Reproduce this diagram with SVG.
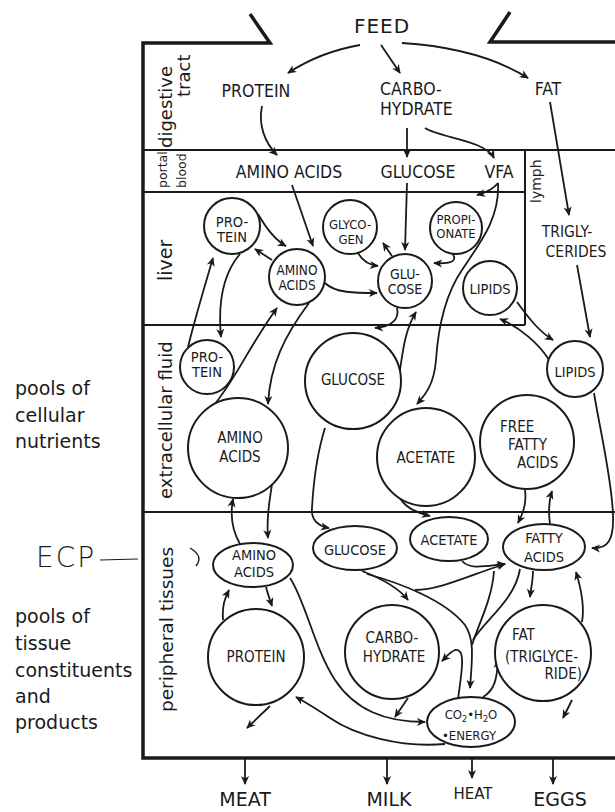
<svg xmlns="http://www.w3.org/2000/svg" width="615" height="812" viewBox="0 0 615 812">
<defs>
<marker id="ah" viewBox="0 0 10 10" refX="9" refY="5" markerWidth="11" markerHeight="9" markerUnits="userSpaceOnUse" orient="auto">
<path d="M0,0.5 L10,5 L0,9.5 L2.8,5 z" fill="#1a1a1a"/>
</marker>
<style>
.fr{fill:none;stroke:#1a1a1a;stroke-width:3.5;stroke-linejoin:miter}
.dv{fill:none;stroke:#1a1a1a;stroke-width:2}
.n{fill:#fff;stroke:#1a1a1a;stroke-width:2}
.c{fill:none;stroke:#1a1a1a;stroke-width:1.8;marker-end:url(#ah)}
.l{fill:none;stroke:#1a1a1a;stroke-width:1.8}
.t{font-family:'DejaVu Sans Condensed','Liberation Sans',sans-serif;font-size:14.5px;fill:#1a1a1a;text-anchor:middle}
.s{font-size:13.5px}
.m{font-size:15px}
.h{font-family:'DejaVu Sans Condensed','Liberation Sans',sans-serif;font-size:17.5px;fill:#1a1a1a;text-anchor:middle}
.b{font-family:'DejaVu Sans','Liberation Sans',sans-serif;fill:#1a1a1a;text-anchor:middle}
.v{font-family:'DejaVu Sans','Liberation Sans',sans-serif;font-size:18px;fill:#1a1a1a}
.p{font-family:'DejaVu Sans','Liberation Sans',sans-serif;font-size:19px;fill:#1a1a1a}
</style>
</defs>
<rect width="615" height="812" fill="#fff"/>

<g id="frame">
<path class="fr" d="M250,14 L270,43 L143,43 L143,758 L615,758"/>
<path class="fr" d="M510,12 L490,42 L615,42"/>
<path class="dv" d="M143,150 L615,150"/>
<path class="dv" d="M143,192 L525,192"/>
<path class="dv" d="M525,150 L525,325"/>
<path class="dv" d="M143,325 L525,325"/>
<path class="dv" d="M143,512 L615,512"/>
</g>

<g id="section-labels">
<text class="v" transform="translate(172,148) rotate(-90)">digestive</text>
<text class="v" transform="translate(190,97) rotate(-90)">tract</text>
<text class="v" style="font-size:12.5px" transform="translate(167,188) rotate(-90)">portal</text>
<text class="v" style="font-size:12.5px" transform="translate(186,188) rotate(-90)">blood</text>
<text class="v" style="font-size:19px" transform="translate(172,281) rotate(-90)">liver</text>
<text class="v" transform="translate(172,499) rotate(-90)">extracellular fluid</text>
<text class="v" style="font-size:18.5px" transform="translate(173,712) rotate(-90)">peripheral tissues</text>
<text class="v" style="font-size:14px" transform="translate(541,203) rotate(-90)">lymph</text>
</g>

<g id="side-labels">
<text class="p" x="15" y="395">pools of</text>
<text class="p" x="15" y="422">cellular</text>
<text class="p" x="15" y="448">nutrients</text>
<text class="p" x="15" y="623">pools of</text>
<text class="p" x="15" y="650">tissue</text>
<text class="p" x="15" y="677">constituents</text>
<text class="p" x="15" y="703">and</text>
<text class="p" x="15" y="729">products</text>
<text x="36" y="567" style="font-family:'DejaVu Sans','Liberation Sans',sans-serif;font-size:28px;font-weight:200;letter-spacing:2px;fill:#1a1a1a">ECP</text>
<path class="l" style="stroke-width:1.2" d="M100,560 L138,559"/>
<path class="l" style="stroke-width:1.4" d="M190,548 Q204,556 196,566"/>
</g>

<g id="connectors">
<path class="c" d="M360,45 Q320,52 288,73"/>
<path class="c" d="M381,45 L400,73"/>
<path class="c" d="M402,43 Q480,48 528,78"/>
<path class="c" d="M262,106 C258,125 265,143 277,155"/>
<path class="c" d="M407,128 L407,157"/>
<path class="c" d="M425,128 C440,138 485,140 494,158"/>
<path class="c" d="M550,102 L569,215"/>
<path class="c" d="M577,265 L590,337"/>
<path class="c" d="M292,185 L313,246"/>
<path class="c" d="M407,183 L405,250"/>
<path class="c" d="M498,183 Q492,191 477,195"/>
<path class="c" d="M498,183 C500,220 478,245 462,270 C445,295 438,330 436,360 C434,385 425,395 417,404"/>
<path class="c" d="M452,253 C459,262 449,264 434,263"/>
<path class="c" d="M358,253 C363,262 370,265 378,266"/>
<path class="c" d="M392,256 L383,243"/>
<path class="c" d="M258,214 C266,228 275,240 286,246"/>
<path class="c" d="M272,260 L255,249"/>
<path class="c" d="M325,283 C335,293 355,293 377,293"/>
<path class="c" d="M240,254 C222,275 218,305 221,337"/>
<path class="c" d="M188,347 C196,315 205,285 213,258"/>
<path class="c" d="M214,405 C235,380 250,345 277,308"/>
<path class="c" d="M309,303 C285,335 270,365 268,404"/>
<path class="c" d="M397,308 C400,320 390,327 375,328"/>
<path class="c" d="M400,370 C403,350 405,330 416,312"/>
<path class="c" d="M517,302 C530,320 540,332 553,340"/>
<path class="c" d="M549,360 C540,345 520,327 500,319"/>
<path class="c" d="M594,393 C600,430 612,480 613,515 C614,540 608,549 592,548"/>
<path class="c" d="M525,490 C527,505 522,515 518,523"/>
<path class="c" d="M550,524 C548,510 549,500 552,491"/>
<path class="c" d="M398,495 C405,508 415,512 430,516"/>
<path class="c" d="M325,428 C315,460 313,490 312,508 C311,520 318,526 329,528"/>
<path class="c" d="M272,484 C270,500 266,515 268,538"/>
<path class="c" d="M240,544 C232,530 230,515 233,499"/>
<path class="c" d="M266,587 C268,595 270,600 272,606"/>
<path class="c" d="M223,620 C222,605 225,598 229,590"/>
<path class="c" d="M290,578 C305,600 315,650 335,680 C355,710 385,722 425,722"/>
<path class="c" d="M445,744 C400,748 355,735 330,718 C315,708 305,702 296,697"/>
<path class="c" d="M270,706 L247,728"/>
<path class="c" d="M408,698 L395,717"/>
<path class="c" d="M572,700 L563,718"/>
<path class="c" d="M362,571 C380,578 398,587 408,600"/>
<path class="c" d="M367,574 C400,583 445,600 465,625 C475,640 472,660 470,688"/>
<path class="c" d="M415,590 C440,590 470,575 505,564"/>
<path class="c" d="M462,561 C470,570 485,566 505,564"/>
<path class="l" d="M494,571 C492,600 478,625 472,645"/>
<path class="l" d="M520,569 C515,600 485,620 473,640"/>
<path class="c" d="M533,571 C533,580 531,588 530,597"/>
<path class="c" d="M582,622 C585,605 580,585 576,572"/>
<path class="c" d="M483,697 C495,690 497,678 498,660"/>
<path class="c" d="M458,699 C462,670 466,648 455,650 C450,652 447,656 442,661"/>
<path class="c" d="M245,759 L245,784"/>
<path class="c" d="M387,759 L387,784"/>
<path class="c" d="M472,759 L472,778"/>
<path class="c" d="M553,759 L553,784"/>
</g>

<g id="feed"><text class="b" x="382" y="33" style="font-size:20px;letter-spacing:1px">FEED</text></g>
<g id="dt-protein"><text class="h" x="256" y="97">PROTEIN</text></g>
<g id="dt-carbohydrate"><text class="h" x="380" y="95" style="text-anchor:start">CARBO-</text><text class="h" x="380" y="115" style="text-anchor:start">HYDRATE</text></g>
<g id="dt-fat"><text class="h" x="548" y="95">FAT</text></g>
<g id="pb-amino"><text class="h" x="289" y="178">AMINO ACIDS</text></g>
<g id="pb-glucose"><text class="h" x="418" y="178">GLUCOSE</text></g>
<g id="pb-vfa"><text class="h" x="499" y="178">VFA</text></g>
<g id="ly-trig"><text class="h" style="font-size:15.5px" x="567" y="237">TRIGLY-</text><text class="h" style="font-size:15.5px" x="576" y="257">CERIDES</text></g>

<g id="lv-protein"><circle class="n" cx="232" cy="226" r="28"/><text class="t" x="232" y="227">PRO-</text><text class="t" x="232" y="242">TEIN</text></g>
<g id="lv-amino"><circle class="n" cx="297" cy="277" r="28"/><text class="t s" x="297" y="275">AMINO</text><text class="t s" x="297" y="290">ACIDS</text></g>
<g id="lv-glycogen"><circle class="n" cx="350" cy="227" r="27"/><text class="t" style="font-size:13px" x="350" y="229">GLYCO-</text><text class="t" style="font-size:13px" x="351" y="244">GEN</text></g>
<g id="lv-glucose"><circle class="n" cx="405" cy="281" r="27"/><text class="t" style="font-size:14px" x="405" y="279">GLU-</text><text class="t" style="font-size:14px" x="405" y="294">COSE</text></g>
<g id="lv-propionate"><circle class="n" cx="456" cy="228" r="26"/><text class="t" style="font-size:13px" x="456" y="224">PROPI-</text><text class="t" style="font-size:13px" x="456" y="238">ONATE</text></g>
<g id="lv-lipids"><circle class="n" cx="490" cy="288" r="27"/><text class="t" x="490" y="294">LIPIDS</text></g>

<g id="ef-protein"><circle class="n" cx="207" cy="367" r="27"/><text class="t" x="207" y="362">PRO-</text><text class="t" x="207" y="377">TEIN</text></g>
<g id="ef-glucose"><circle class="n" cx="353" cy="381" r="48"/><text class="t m" x="353" y="385">GLUCOSE</text></g>
<g id="ef-lipids"><circle class="n" cx="575" cy="369" r="28"/><text class="t" x="575" y="377">LIPIDS</text></g>
<g id="ef-amino"><circle class="n" cx="238" cy="448" r="50"/><text class="t m" x="240" y="443">AMINO</text><text class="t m" x="240" y="462">ACIDS</text></g>
<g id="ef-acetate"><circle class="n" cx="426" cy="457" r="49"/><text class="t m" x="426" y="463">ACETATE</text></g>
<g id="ef-ffa"><circle class="n" cx="527" cy="442" r="47"/><text class="t m" x="500" y="432" style="text-anchor:start">FREE</text><text class="t m" x="508" y="450" style="text-anchor:start">FATTY</text><text class="t m" x="517" y="468" style="text-anchor:start">ACIDS</text></g>

<g id="pt-amino"><ellipse class="n" cx="253" cy="565" rx="40" ry="22"/><text class="t" x="254" y="560">AMINO</text><text class="t" x="254" y="577">ACIDS</text></g>
<g id="pt-glucose"><ellipse class="n" cx="355" cy="548" rx="42" ry="22"/><text class="t" x="355" y="555">GLUCOSE</text></g>
<g id="pt-acetate"><ellipse class="n" cx="449" cy="539" rx="39" ry="22"/><text class="t" x="449" y="545">ACETATE</text></g>
<g id="pt-fatty"><ellipse class="n" cx="544" cy="547" rx="41" ry="23"/><text class="t" x="544" y="543">FATTY</text><text class="t" x="544" y="562">ACIDS</text></g>
<g id="pt-protein"><circle class="n" cx="256" cy="657" r="48"/><text class="t m" x="256" y="662">PROTEIN</text></g>
<g id="pt-carbohydrate"><circle class="n" cx="392" cy="652" r="47"/><text class="t m" x="392" y="643">CARBO-</text><text class="t m" x="394" y="662">HYDRATE</text></g>
<g id="pt-fat"><circle class="n" cx="543" cy="653" r="48"/><text class="t m" x="512" y="640" style="text-anchor:start">FAT</text><text class="t m" x="505" y="662" style="text-anchor:start">(TRIGLYCE-</text><text class="t m" x="582" y="679" style="text-anchor:end">RIDE)</text></g>
<g id="pt-co2"><ellipse class="n" cx="471" cy="722" rx="44" ry="25"/><text class="t" style="font-size:13px" x="471" y="719">CO<tspan font-size="9" dy="3">2</tspan><tspan dy="-3">•H</tspan><tspan font-size="9" dy="3">2</tspan><tspan dy="-3">O</tspan></text><text class="t" style="font-size:13px" x="469" y="740">•ENERGY</text></g>

<g id="outputs">
<text class="b" x="245" y="806" style="font-size:19px">MEAT</text>
<text class="b" x="389" y="806" style="font-size:19px">MILK</text>
<text class="b" x="473" y="799" style="font-size:15px">HEAT</text>
<text class="b" x="560" y="806" style="font-size:19px">EGGS</text>
</g>
</svg>
